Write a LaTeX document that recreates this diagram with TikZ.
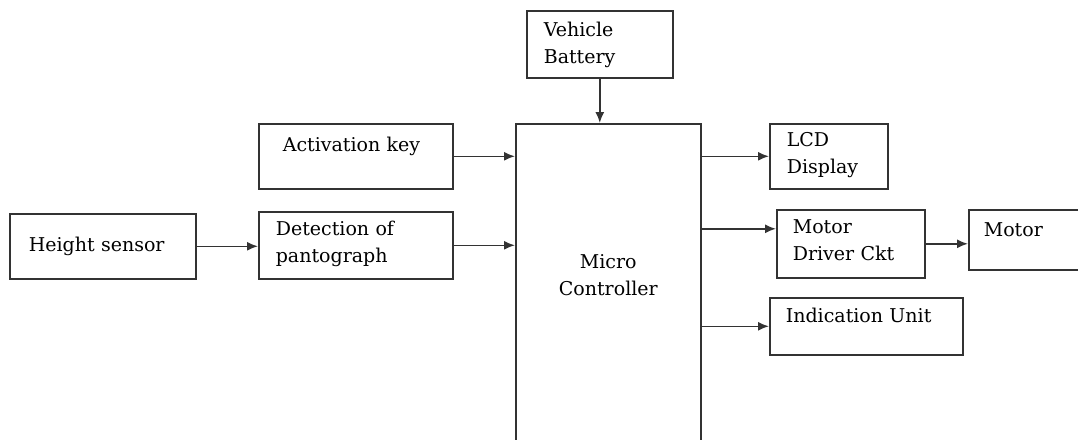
\documentclass[tikz,border=0pt]{standalone}
\usepackage{fontspec}
\setmainfont{DejaVu Serif}
\usetikzlibrary{arrows.meta}

\begin{document}
\begin{tikzpicture}[x=1pt, y=-1pt,
  blk/.style={draw=black!80, line width=1.6pt, anchor=north west, inner ysep=0pt, align=left, text=black, font=\fontsize{19}{27}\selectfont},
  conn/.style={draw=black!80, line width=1.6pt, -{Latex[length=11pt, width=9pt]}},
]
\useasboundingbox (0,0) rectangle (1078,439);
% inputs
\node[blk, inner xsep=19pt, text width=148pt, text height=38pt, text depth=27pt] (hs) at (9,213) {Height sensor};
\node[blk, inner xsep=24pt, text width=146pt, text height=28pt, text depth=37pt] (act) at (258,123) {Activation key};
\node[blk, inner xsep=17pt, text width=160pt, text height=24pt, text depth=43pt] (det) at (258,211) {Detection of\\pantograph};
\node[blk, inner xsep=17pt, text width=112pt, text height=26pt, text depth=41pt] (veh) at (526,10) {Vehicle\\Battery};
% controller
\node[blk, inner xsep=0pt, text width=185pt, align=center, text height=145pt, text depth=177pt] (mc) at (515,123) {Micro\\Controller};
% outputs
\node[blk, inner xsep=17pt, text width=84pt, text height=23pt, text depth=42pt] (lcd) at (769,123) {LCD\\Display};
\node[blk, inner xsep=16pt, text width=116pt, text height=24pt, text depth=44pt] (drv) at (776,209) {Motor\\Driver Ckt};
\node[blk, inner xsep=15pt, text width=92pt, text height=27pt, text depth=33pt] (mot) at (968,209) {Motor};
\node[blk, inner xsep=16pt, text width=161pt, text height=25pt, text depth=32pt] (ind) at (769,297) {Indication Unit};
\coordinate (drvin) at ([yshift=15pt]drv.west);

\draw[conn] (hs.east) -- (hs.east -| det.west);
\draw[conn] (act.east) -- (act.east -| mc.west);
\draw[conn] (det.east) -- (det.east -| mc.west);
\draw[conn] (veh.south) -- (veh.south |- mc.north);
\draw[conn] (lcd.west -| mc.east) -- (lcd.west);
\draw[conn] (drvin -| mc.east) -- (drvin);
\draw[conn] (drv.east) -- (drv.east -| mot.west);
\draw[conn] (ind.west -| mc.east) -- (ind.west);
\end{tikzpicture}
\end{document}
